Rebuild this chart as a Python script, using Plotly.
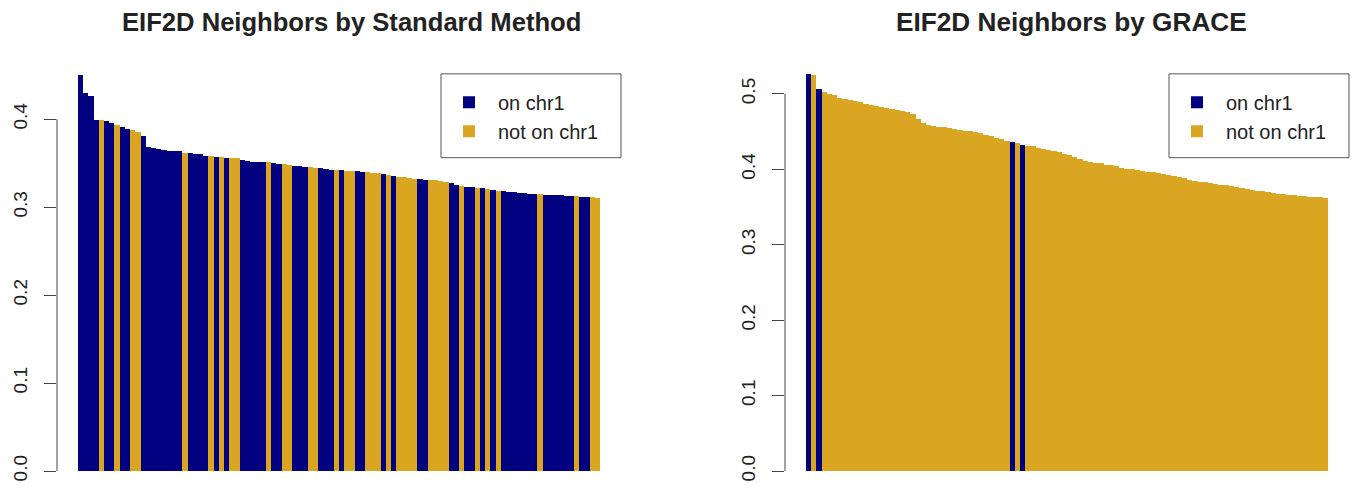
import plotly.graph_objects as go

# ---------------- data ----------------
left_title = "EIF2D Neighbors by Standard Method"
right_title = "EIF2D Neighbors by GRACE"
series_names = ["on chr1", "not on chr1"]
series_colors = ["#000080", "#DAA520"]

left_values = [0.450, 0.430, 0.427, 0.3995, 0.399, 0.398, 0.396, 0.394, 0.391, 0.389,
               0.388, 0.386, 0.381, 0.369, 0.367, 0.366, 0.365, 0.3645, 0.364, 0.3635,
               0.362, 0.3615, 0.361, 0.360, 0.3585, 0.358, 0.3575, 0.357, 0.3565, 0.356,
               0.3555, 0.354, 0.353, 0.352, 0.352, 0.3515, 0.351, 0.350, 0.3495, 0.349,
               0.3485, 0.347, 0.3465, 0.346, 0.3455, 0.345, 0.3445, 0.3435, 0.3428, 0.3425,
               0.342, 0.3415, 0.341, 0.3407, 0.3405, 0.340, 0.3395, 0.339, 0.338, 0.337,
               0.3358, 0.3345, 0.334, 0.3335, 0.332, 0.3318, 0.3312, 0.331, 0.3305, 0.330,
               0.329, 0.328, 0.3256, 0.3244, 0.3236, 0.3225, 0.322, 0.3218, 0.321, 0.3199,
               0.3185, 0.318, 0.3175, 0.317, 0.3165, 0.316, 0.3155, 0.315, 0.3148, 0.3145,
               0.3142, 0.314, 0.3135, 0.313, 0.3125, 0.3123, 0.3122, 0.3121, 0.3115, 0.311]

left_on_chr1 = [1, 1, 1, 1, 0, 1, 1, 0, 1, 1,
                0, 0, 1, 1, 1, 1, 1, 1, 1, 1,
                0, 1, 1, 1, 1, 0, 1, 0, 1, 0,
                0, 1, 1, 1, 1, 1, 0, 1, 1, 0,
                0, 1, 1, 1, 0, 0, 1, 1, 1, 0,
                1, 0, 0, 1, 1, 0, 0, 0, 1, 0,
                1, 0, 0, 0, 0, 1, 1, 0, 0, 0,
                0, 1, 1, 0, 1, 1, 0, 1, 0, 1,
                0, 1, 1, 1, 1, 1, 1, 1, 0, 1,
                1, 1, 1, 1, 1, 0, 1, 1, 0, 0]

right_values = [0.526, 0.5255, 0.507, 0.502, 0.500, 0.4985, 0.4945, 0.4935, 0.492, 0.4905,
                0.489, 0.487, 0.4855, 0.484, 0.483, 0.4815, 0.480, 0.479, 0.4775, 0.4765,
                0.474, 0.467, 0.461, 0.4585, 0.4575, 0.4565, 0.456, 0.455, 0.4535, 0.452,
                0.451, 0.4505, 0.4495, 0.448, 0.446, 0.444, 0.442, 0.440, 0.4375, 0.436,
                0.4345, 0.433, 0.4315, 0.4305, 0.429, 0.4275, 0.426, 0.4245, 0.423, 0.421,
                0.419, 0.4165, 0.414, 0.4115, 0.410, 0.409, 0.408, 0.4065, 0.4055, 0.404,
                0.4025, 0.401, 0.400, 0.399, 0.398, 0.397, 0.396, 0.395, 0.394, 0.3925,
                0.391, 0.390, 0.388, 0.3865, 0.385, 0.384, 0.383, 0.382, 0.381, 0.380,
                0.379, 0.378, 0.377, 0.3755, 0.3745, 0.3725, 0.3715, 0.371, 0.370, 0.369,
                0.368, 0.3675, 0.3665, 0.366, 0.365, 0.3645, 0.364, 0.3635, 0.363, 0.362]

right_on_chr1 = [1, 0, 1, 0, 0, 0, 0, 0, 0, 0,
                 0, 0, 0, 0, 0, 0, 0, 0, 0, 0,
                 0, 0, 0, 0, 0, 0, 0, 0, 0, 0,
                 0, 0, 0, 0, 0, 0, 0, 0, 0, 1,
                 0, 1, 0, 0, 0, 0, 0, 0, 0, 0,
                 0, 0, 0, 0, 0, 0, 0, 0, 0, 0,
                 0, 0, 0, 0, 0, 0, 0, 0, 0, 0,
                 0, 0, 0, 0, 0, 0, 0, 0, 0, 0,
                 0, 0, 0, 0, 0, 0, 0, 0, 0, 0,
                 0, 0, 0, 0, 0, 0, 0, 0, 0, 0]

left_ticks = [0.0, 0.1, 0.2, 0.3, 0.4]
right_ticks = [0.0, 0.1, 0.2, 0.3, 0.4, 0.5]

# ---------------- layout constants ----------------
W, H = 1355, 493
H_EFF = 484  # observed effective rendered height of the figure
FONT = "Liberation Sans, Arial, Helvetica, sans-serif"
TXT = "#222222"


def px(x):
    return x / W


def py(y):
    return 1 - y / H_EFF


left_dom = [px(57), px(621)]
right_dom = [px(785), px(1349)]
ydom = [py(472), py(74)]

fig = go.Figure()


def add_panel(values, flags, xa, ya, legend):
    for flag, name, color in zip([1, 0], series_names, series_colors):
        xs = [i for i, f in enumerate(flags) if f == flag]
        ys = [values[i] for i, f in enumerate(flags) if f == flag]
        fig.add_trace(go.Bar(
            x=xs, y=ys, width=1.0, name=name,
            marker=dict(color=color, line=dict(width=0)),
            xaxis=xa, yaxis=ya, legend=legend, showlegend=True,
            hoverinfo="x+y"))


add_panel(left_values, left_on_chr1, "x", "y", "legend")
add_panel(right_values, right_on_chr1, "x2", "y2", "legend2")

n_left = len(left_values)
n_right = len(right_values)
pad_l = 0.04 * n_left
pad_r = 0.04 * n_right

yaxis_common = dict(
    domain=ydom, showgrid=False, zeroline=False, showline=False,
    ticks="outside", ticklen=12, tickwidth=1, tickcolor="#444444",
    tickangle=-90, tickfont=dict(family=FONT, size=19, color=TXT),
    ticklabelstandoff=9, fixedrange=True,
)

legend_common = dict(
    xanchor="left", yanchor="top", borderwidth=0,
    bgcolor="rgba(0,0,0,0)", itemwidth=48,
    font=dict(family=FONT, size=20, color=TXT),
    traceorder="normal", itemclick=False, itemdoubleclick=False,
)

fig.update_layout(
    width=W, height=H,
    margin=dict(l=0, r=0, t=0, b=0),
    paper_bgcolor="white", plot_bgcolor="white",
    barmode="overlay", bargap=0,
    font=dict(family=FONT, color=TXT),
    xaxis=dict(domain=left_dom, range=[-0.5 - pad_l, n_left - 0.5 + pad_l],
               visible=False, fixedrange=True),
    xaxis2=dict(domain=right_dom, range=[-0.5 - pad_r, n_right - 0.5 + pad_r],
                visible=False, fixedrange=True),
    yaxis=dict(anchor="x", range=[0, 0.4515], tickvals=left_ticks,
               ticktext=[f"{v:.1f}" for v in left_ticks], **yaxis_common),
    yaxis2=dict(anchor="x2", range=[0, 0.5265], tickvals=right_ticks,
                ticktext=[f"{v:.1f}" for v in right_ticks], **yaxis_common),
    legend=dict(x=px(440), y=py(83), **legend_common),
    legend2=dict(x=px(1168), y=py(83), **legend_common),
    showlegend=True,
)

# legend frames (R style boxes)
fig.add_shape(type="rect", xref="paper", yref="paper", layer="above",
              x0=px(441), x1=px(621), y0=py(158), y1=py(74),
              line=dict(color="#555555", width=1), fillcolor="white")
fig.add_shape(type="rect", xref="paper", yref="paper", layer="above",
              x0=px(1169), x1=px(1349), y0=py(158), y1=py(74),
              line=dict(color="#555555", width=1), fillcolor="white")

# R-style axis lines spanning only the labelled range
fig.add_shape(type="line", xref="paper", yref="y", x0=left_dom[0], x1=left_dom[0],
              y0=left_ticks[0], y1=left_ticks[-1], line=dict(color="#444444", width=1))
fig.add_shape(type="line", xref="paper", yref="y2", x0=right_dom[0], x1=right_dom[0],
              y0=right_ticks[0], y1=right_ticks[-1], line=dict(color="#444444", width=1))

# titles
fig.add_annotation(text=f"<b>{left_title}</b>", xref="paper", yref="paper",
                   x=px(351), y=py(22), xanchor="center", yanchor="middle",
                   showarrow=False, font=dict(family=FONT, size=25.6, color=TXT))
fig.add_annotation(text=f"<b>{right_title}</b>", xref="paper", yref="paper",
                   x=px(1071), y=py(22), xanchor="center", yanchor="middle",
                   showarrow=False, font=dict(family=FONT, size=26.2, color=TXT))

fig.write_html("out.html")
